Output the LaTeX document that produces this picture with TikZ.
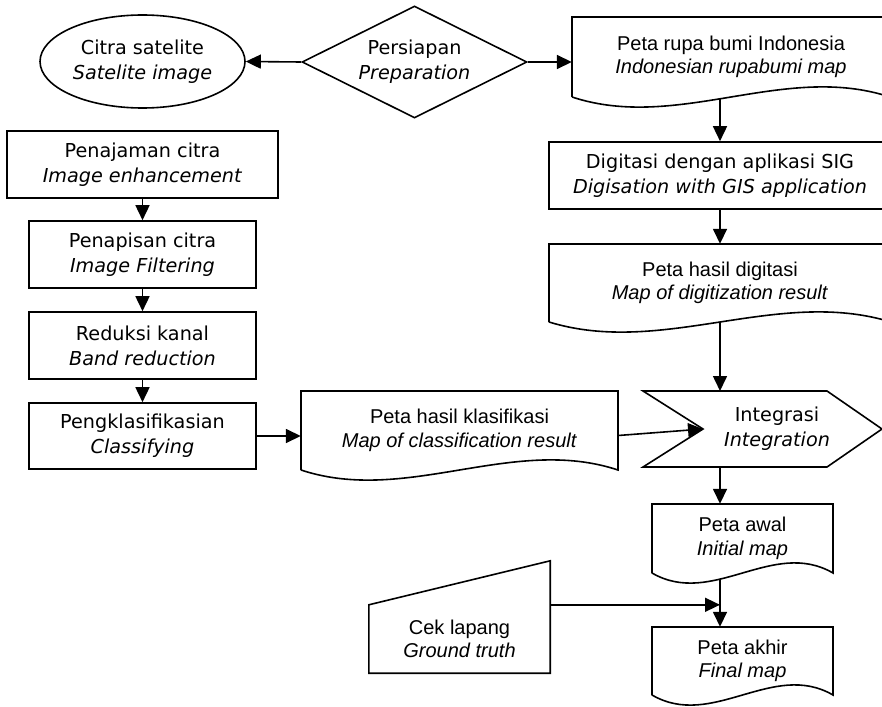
\documentclass[tikz,border=0pt]{standalone}
\usepackage{fontspec}
\setmainfont{DejaVu Sans}[ItalicFont={DejaVu Sans Oblique}]
\newfontfamily\arialfont{Liberation Sans}
\usepackage{tikz}
\usetikzlibrary{arrows.meta,shapes.geometric,calc}

\tikzset{
  line/.style={line width=1.6pt},
  arr/.style={line width=1.6pt,-{Triangle[length=15pt,width=14pt]}},
  proc/.style={draw,line width=1.6pt,inner sep=0pt,align=center,
    font=\fontsize{19.2}{25}\selectfont},
  doc/.style={inner sep=0pt,align=center,
    font=\arialfont\fontsize{20}{23.5}\selectfont},
}

\newcommand{\docshape}[6]{%
  \draw[line] (#2,#5) -- (#2,#4) -- (#3,#4) -- (#3,#5)
    .. controls ({#3-(#3-#2)/3},{#5+35}) and ({#2+(#3-#2)/3},{#5-35}) .. (#2,#5);
  \node[doc,minimum width={(#3-#2)*1pt},minimum height={(#4-#5)*1pt}] (#1)
    at ({(#2+#3)/2},{(#4+#5)/2}) {#6};
}

\begin{document}
\begin{tikzpicture}[x=1pt,y=1pt]
    \path[use as bounding box] (0,0) rectangle (882,-706);
    \clip (0,0) rectangle (882,-706);

    \node[proc,ellipse,minimum width=205pt,minimum height=93pt] (sat) at (142.5,-61.5) {Citra satelite\\\textit{Satelite image}};
    \node[proc,diamond,aspect=2,minimum width=225pt,minimum height=112pt] (prep) at (414.5,-62) {Persiapan\\\textit{Preparation}};

    \node[proc,minimum width=271pt,minimum height=67pt] (enh) at (142.5,-164.5) {Penajaman citra\\\textit{Image enhancement}};
    \node[proc,minimum width=227pt,minimum height=67pt] (filt) at (142.5,-254.5) {Penapisan citra\\\textit{Image Filtering}};
    \node[proc,minimum width=227pt,minimum height=67pt] (band) at (142.5,-345.5) {Reduksi kanal\\\textit{Band reduction}};
    \node[proc,minimum width=227pt,minimum height=66pt] (klasf) at (142.5,-436) {Pengklasifikasian\\\textit{Classifying}};
    \node[proc,minimum width=342pt,minimum height=67pt] (digi) at (720,-175.5) {Digitasi dengan aplikasi SIG\\\textit{Digisation with GIS application}};

    \docshape{rbi}{572}{890}{-17}{-97}{Peta rupa bumi Indonesia\\\textit{Indonesian rupabumi map}}
    \docshape{digres}{549}{891}{-244}{-322}{Peta hasil digitasi\\\textit{Map of digitization result}}
    \docshape{klas}{301}{618}{-391}{-470}{Peta hasil klasifikasi\\\textit{Map of classification result}}
    \docshape{awal}{652}{833}{-504}{-573}{Peta awal\\\textit{Initial map}}
    \docshape{akhir}{652}{833}{-627}{-695}{Peta akhir\\\textit{Final map}}

    \draw[line] (643,-391) -- (827,-391) -- (882,-429) -- (827,-467) -- (643,-467) -- (703,-429) -- cycle;
    \node[inner sep=0pt,align=center,font=\fontsize{19.2}{25}\selectfont] (integ) at (777,-429) {Integrasi\\\textit{Integration}};
    \coordinate (integ in) at (703,-429);
    \coordinate (integ top) at (720,-391);
    \coordinate (integ bot) at (720,-467);

    \node[doc,minimum width=181pt,minimum height=68pt] (cek) at (459.5,-639) {Cek lapang\\\textit{Ground truth}};
    \draw[line] (cek.south west) -- (cek.north west) -- ($(cek.north east)+(0,44)$) -- (cek.south east) -- cycle;

    \draw[arr] (prep.west) -- (sat.east);
    \draw[arr] (prep.east) -- (prep.east -| rbi.west);
    \draw[arr] (enh.south) -- (filt.north);
    \draw[arr] (filt.south) -- (band.north);
    \draw[arr] (band.south) -- (klasf.north);
    \draw[arr] (klasf.east) -- (klasf.east -| klas.west);
    \draw[arr] ($(rbi.south -| digi.north)+(0,-2)$) -- (digi.north);
    \draw[arr] (digi.south) -- (digres.north);
    \draw[arr] (digres.south) -- (integ top);
    \draw[arr] ($(klas.east)+(0,-5)$) -- (integ in);
    \draw[arr] (integ bot) -- (integ bot |- awal.north);
    \draw[arr] ($(awal.south -| integ bot)+(0,-6)$) -- (akhir.north -| integ bot);
    \draw[arr] (cek.north east) -- (cek.north east -| integ bot);
\end{tikzpicture}
\end{document}
